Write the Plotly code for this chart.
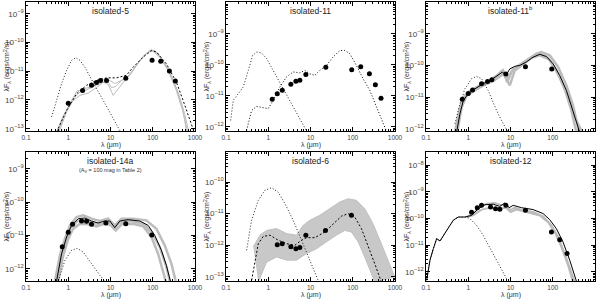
import plotly.graph_objects as go

FONT = "Liberation Sans"

titles = ["isolated-5", "isolated-11", "isolated-11<sup>b</sup>",
          "isolated-14a", "isolated-6", "isolated-12"]
subtitle_p4 = "(A<sub>V</sub> = 100 mag in Table 2)"
x_title = "λ (μm)"
y_title = "λF<sub>λ</sub> (ergs/cm<sup>2</sup>/s)"

# ---------------- panel 1 : isolated-5 (log10 lambda[um], log10 lambda F_lambda) ----
p1_data_x = [0.0, 0.339, 0.551, 0.669, 0.764, 0.906, 1.362, 1.984, 2.189, 2.394, 2.535]
p1_data_y = [-12.11, -11.67, -11.49, -11.39, -11.32, -11.32, -11.24, -10.62, -10.65, -10.99, -11.34]
p1_fit_x = [-0.276, -0.039, 0.197, 0.433, 0.669, 0.906, 1.142, 1.378, 1.535, 1.772, 1.969, 2.087, 2.323, 2.559, 2.717, 2.874, 2.992]
p1_fit_y = [-13.12, -12.36, -11.78, -11.49, -11.32, -11.23, -11.23, -11.14, -10.86, -10.51, -10.28, -10.33, -10.74, -11.38, -12.01, -12.71, -13.17]
p1_star_x = [-0.394, -0.276, -0.157, -0.039, 0.079, 0.181, 0.276, 0.394, 0.512, 0.669, 0.827, 0.984, 1.142, 1.26]
p1_star_y = [-12.59, -12.01, -11.43, -10.97, -10.62, -10.53, -10.62, -10.86, -11.20, -11.61, -12.01, -12.42, -12.83, -13.17]
p1_g1_x = [-0.26, -0.079, 0.079, 0.213, 0.394, 0.551, 0.748, 0.906, 1.024, 1.126, 1.26, 1.417, 1.575, 1.772, 1.929, 2.047, 2.205, 2.402, 2.598, 2.756, 2.858]
p1_g1_y = [-13.17, -12.48, -12.01, -11.67, -11.67, -11.57, -11.32, -11.28, -11.57, -11.53, -11.32, -11.18, -10.86, -10.48, -10.28, -10.28, -10.57, -11.03, -11.72, -12.48, -13.17]
p1_g2_x = [-0.291, -0.118, 0.079, 0.276, 0.472, 0.669, 0.827, 0.945, 1.063, 1.181, 1.339, 1.496, 1.693, 1.89, 2.008, 2.165, 2.362, 2.559, 2.717, 2.835]
p1_g2_y = [-13.17, -12.54, -12.07, -11.84, -11.76, -11.57, -11.38, -11.46, -11.84, -11.61, -11.32, -11.06, -10.62, -10.33, -10.30, -10.51, -10.97, -11.67, -12.42, -13.17]
p1_g3_x = [-0.236, -0.039, 0.157, 0.354, 0.591, 0.827, 0.984, 1.102, 1.26, 1.417, 1.614, 1.811, 1.969, 2.126, 2.323, 2.52, 2.701, 2.811]
p1_g3_y = [-13.17, -12.42, -11.90, -11.61, -11.53, -11.38, -11.32, -11.43, -11.32, -11.20, -10.80, -10.43, -10.25, -10.37, -10.80, -11.43, -12.25, -13.17]

# ---------------- panel 2 : isolated-11 ----
p2_data_x = [0.094, 0.213, 0.331, 0.535, 0.654, 0.748, 0.890, 1.362, 1.976, 2.189, 2.394, 2.535, 2.669]
p2_data_y = [-11.11, -10.93, -10.82, -10.63, -10.53, -10.50, -10.31, -10.08, -10.16, -10.06, -10.29, -10.64, -11.08]
p2_fit_x = [-0.512, -0.394, -0.276, -0.157, 0.0, 0.118, 0.276, 0.433, 0.591, 0.748, 0.866, 0.984, 1.102, 1.22, 1.378, 1.535, 1.693, 1.811, 1.929, 2.087, 2.244, 2.402, 2.559, 2.717, 2.795]
p2_fit_y = [-12.11, -11.47, -11.34, -11.38, -11.41, -11.14, -10.71, -10.39, -10.23, -10.26, -10.18, -10.29, -10.34, -10.18, -10.02, -9.75, -9.54, -9.54, -9.64, -10.02, -10.45, -10.82, -11.36, -11.89, -12.13]
p2_star_x = [-0.89, -0.827, -0.709, -0.591, -0.472, -0.37, -0.276, -0.157, -0.039, 0.118, 0.276, 0.433, 0.591, 0.748, 0.906]
p2_star_y = [-11.79, -11.14, -10.93, -10.71, -10.18, -9.70, -9.59, -9.62, -9.80, -10.18, -10.61, -10.98, -11.36, -11.73, -12.13]

# ---------------- panel 3 : isolated-11b ----
p3_data_x = [-0.142, 0.0, 0.102, 0.315, 0.457, 0.559, 0.890, 1.354, 1.976]
p3_data_y = [-11.07, -10.89, -10.78, -10.58, -10.51, -10.45, -10.27, -10.04, -10.11]
p3_fit_x = [-0.276, -0.197, -0.118, 0.0, 0.157, 0.354, 0.551, 0.709, 0.811, 0.89, 0.984, 1.102, 1.22, 1.378, 1.535, 1.693, 1.85, 2.008, 2.165, 2.323, 2.48, 2.598, 2.638]
p3_fit_y = [-12.11, -11.53, -11.11, -10.89, -10.74, -10.58, -10.45, -10.32, -10.21, -10.32, -10.11, -10.03, -10.0, -9.89, -9.74, -9.65, -9.72, -9.95, -10.32, -10.79, -11.42, -11.95, -12.11]
p3_star_x = [-0.315, -0.197, -0.079, 0.079, 0.197, 0.315, 0.472, 0.669, 0.827, 0.945]
p3_star_y = [-11.84, -11.21, -10.74, -10.42, -10.35, -10.42, -10.79, -11.42, -11.84, -12.11]
p3_g1_x = [-0.315, -0.213, -0.118, 0.039, 0.276, 0.512, 0.709, 0.827, 0.921, 1.024, 1.142, 1.378, 1.614, 1.732, 1.929, 2.126, 2.323, 2.48, 2.622]
p3_g1_y = [-12.11, -11.42, -11.0, -10.81, -10.63, -10.47, -10.29, -10.16, -10.53, -10.21, -10.05, -9.84, -9.63, -9.58, -9.68, -10.05, -10.63, -11.26, -12.11]
p3_g2_x = [-0.26, -0.157, -0.039, 0.157, 0.394, 0.63, 0.787, 0.89, 0.984, 1.102, 1.299, 1.535, 1.693, 1.89, 2.087, 2.283, 2.441, 2.559]
p3_g2_y = [-12.11, -11.32, -10.95, -10.77, -10.58, -10.39, -10.18, -10.39, -10.63, -10.16, -9.95, -9.72, -9.63, -9.76, -10.16, -10.74, -11.42, -12.11]
p3_g3_x = [-0.291, -0.181, -0.055, 0.118, 0.354, 0.591, 0.748, 0.843, 0.945, 1.063, 1.26, 1.496, 1.693, 1.929, 2.165, 2.402, 2.559, 2.701]
p3_g3_y = [-12.11, -11.37, -10.98, -10.81, -10.63, -10.49, -10.35, -10.26, -10.39, -10.11, -9.97, -9.76, -9.68, -9.82, -10.37, -11.11, -11.74, -12.11]

# ---------------- panel 4 : isolated-14a ----
p4_data_x = [-0.142, 0.0, 0.102, 0.315, 0.433, 0.551, 0.890, 1.362, 1.976]
p4_data_y = [-11.34, -10.91, -10.67, -10.57, -10.58, -10.67, -10.63, -10.65, -10.99]
p4_fit_x = [-0.276, -0.157, -0.039, 0.079, 0.236, 0.394, 0.551, 0.709, 0.866, 0.984, 1.102, 1.22, 1.417, 1.693, 1.89, 2.047, 2.205, 2.323, 2.417]
p4_fit_y = [-12.37, -11.55, -11.05, -10.7, -10.5, -10.48, -10.57, -10.63, -10.57, -10.57, -10.77, -10.57, -10.53, -10.57, -10.7, -11.0, -11.45, -11.9, -12.37]
p4_star_x = [-0.236, -0.079, 0.079, 0.213, 0.354, 0.551, 0.748, 0.866]
p4_star_y = [-12.37, -11.75, -11.45, -11.39, -11.5, -11.85, -12.2, -12.37]
p4_g1_x = [-0.315, -0.197, -0.079, 0.039, 0.197, 0.354, 0.551, 0.748, 0.945, 1.102, 1.26, 1.535, 1.85, 2.087, 2.283, 2.441, 2.543]
p4_g1_y = [-12.37, -11.6, -11.1, -10.7, -10.45, -10.4, -10.5, -10.57, -10.5, -10.7, -10.5, -10.5, -10.55, -10.8, -11.3, -11.85, -12.37]
p4_g2_x = [-0.236, -0.118, 0.0, 0.118, 0.276, 0.472, 0.669, 0.866, 1.024, 1.126, 1.26, 1.535, 1.772, 1.969, 2.126, 2.244, 2.307]
p4_g2_y = [-12.37, -11.6, -11.1, -10.8, -10.65, -10.67, -10.73, -10.65, -10.7, -10.85, -10.67, -10.65, -10.73, -11.05, -11.55, -12.05, -12.37]
p4_g3_x = [-0.276, -0.173, -0.055, 0.055, 0.213, 0.394, 0.591, 0.787, 0.945, 1.079, 1.22, 1.496, 1.772, 1.969, 2.165, 2.323, 2.402]
p4_g3_y = [-12.37, -11.65, -11.15, -10.77, -10.57, -10.55, -10.63, -10.67, -10.6, -10.8, -10.6, -10.57, -10.65, -10.9, -11.35, -11.95, -12.37]

# ---------------- panel 5 : isolated-6 ----
p5_data_x = [0.213, 0.331, 0.535, 0.654, 0.748, 0.890, 1.354, 1.969]
p5_data_y = [-11.98, -11.95, -12.05, -12.11, -12.07, -11.68, -11.53, -11.05]
p5_fit_x = [-0.394, -0.315, -0.236, -0.118, 0.039, 0.236, 0.433, 0.63, 0.787, 0.906, 1.102, 1.339, 1.535, 1.732, 1.89, 2.047, 2.205, 2.362, 2.52, 2.677]
p5_fit_y = [-13.11, -12.47, -11.95, -11.72, -11.68, -11.84, -11.95, -12.0, -11.84, -11.76, -11.76, -11.58, -11.32, -11.08, -11.0, -11.11, -11.47, -12.0, -12.58, -13.16]
p5_star_x = [-0.512, -0.394, -0.236, -0.079, 0.079, 0.236, 0.394, 0.591, 0.787, 0.984, 1.181]
p5_star_y = [-12.16, -11.21, -10.58, -10.26, -10.18, -10.32, -10.68, -11.21, -11.84, -12.47, -13.11]
p5_band_hi_x = [-0.354, -0.197, -0.039, 0.197, 0.433, 0.669, 0.827, 0.984, 1.22, 1.457, 1.693, 1.89, 2.087, 2.283, 2.48, 2.677, 2.874, 2.992]
p5_band_hi_y = [-12.05, -11.68, -11.53, -11.47, -11.63, -11.68, -11.37, -11.21, -11.05, -10.84, -10.63, -10.53, -10.58, -10.84, -11.32, -11.95, -12.63, -13.0]
p5_band_lo_x = [-0.236, -0.039, 0.197, 0.433, 0.669, 0.906, 1.142, 1.378, 1.614, 1.811, 1.969, 2.126, 2.283, 2.441, 2.52]
p5_band_lo_y = [-13.16, -12.53, -12.37, -12.47, -12.47, -12.26, -12.11, -11.89, -11.68, -11.53, -11.58, -11.89, -12.37, -12.89, -13.16]

# ---------------- panel 6 : isolated-12 ----
p6_data_x = [0.079, 0.213, 0.315, 0.528, 0.646, 0.748, 0.890, 1.354, 1.969, 2.165, 2.339]
p6_data_y = [-9.76, -9.59, -9.5, -9.56, -9.63, -9.65, -9.5, -9.69, -10.5, -10.79, -11.31]
p6_fit_x = [-0.984, -0.906, -0.827, -0.748, -0.669, -0.512, -0.354, -0.236, -0.079, 0.079, 0.236, 0.394, 0.591, 0.748, 0.866, 0.969, 1.063, 1.26, 1.535, 1.772, 1.929, 2.087, 2.244, 2.402, 2.559]
p6_fit_y = [-12.31, -11.56, -11.13, -10.75, -10.84, -10.44, -10.06, -9.94, -9.94, -9.88, -9.63, -9.48, -9.46, -9.54, -9.41, -9.59, -9.5, -9.59, -9.66, -9.81, -10.04, -10.38, -10.88, -11.56, -12.34]
p6_star_x = [-0.984, -0.906, -0.827, -0.748, -0.669, -0.512, -0.354, -0.236, -0.079, 0.039, 0.197, 0.354, 0.551, 0.748, 0.906]
p6_star_y = [-12.31, -11.56, -11.13, -10.75, -10.84, -10.44, -10.06, -9.94, -9.94, -10.0, -10.25, -10.63, -11.19, -11.75, -12.25]
p6_g1_x = [-0.039, 0.118, 0.276, 0.433, 0.63, 0.787, 0.89, 0.984, 1.102, 1.299, 1.535, 1.772, 1.969, 2.126, 2.283, 2.441, 2.52]
p6_g1_y = [-9.94, -9.81, -9.56, -9.44, -9.41, -9.5, -9.44, -9.69, -9.59, -9.69, -9.75, -9.91, -10.25, -10.69, -11.31, -12.06, -12.38]
p6_g2_x = [-0.039, 0.118, 0.315, 0.512, 0.709, 0.89, 1.0, 1.142, 1.378, 1.693, 1.89, 2.047, 2.205, 2.362, 2.48]
p6_g2_y = [-9.94, -9.88, -9.66, -9.59, -9.63, -9.59, -9.75, -9.66, -9.75, -9.88, -10.13, -10.5, -11.06, -11.75, -12.38]

y_ranges = [[-13.08, -8.59], [-12.13, -7.98], [-12.07, -8.0],
            [-12.37, -8.5], [-13.13, -9.05], [-12.34, -7.5]]

panels = [
    dict(data=(p1_data_x, p1_data_y), fit=(p1_fit_x, p1_fit_y), star=(p1_star_x, p1_star_y),
         grays=[(p1_g1_x, p1_g1_y), (p1_g2_x, p1_g2_y), (p1_g3_x, p1_g3_y)], fitdash="2px,2px", gw=1),
    dict(data=(p2_data_x, p2_data_y), fit=(p2_fit_x, p2_fit_y), star=(p2_star_x, p2_star_y),
         grays=[], fitdash="1px,2px", gw=1),
    dict(data=(p3_data_x, p3_data_y), fit=(p3_fit_x, p3_fit_y), star=(p3_star_x, p3_star_y),
         grays=[(p3_g1_x, p3_g1_y), (p3_g2_x, p3_g2_y), (p3_g3_x, p3_g3_y)], fitdash="solid", gw=2.5),
    dict(data=(p4_data_x, p4_data_y), fit=(p4_fit_x, p4_fit_y), star=(p4_star_x, p4_star_y),
         grays=[(p4_g1_x, p4_g1_y), (p4_g2_x, p4_g2_y), (p4_g3_x, p4_g3_y)], fitdash="solid", gw=2.5),
    dict(data=(p5_data_x, p5_data_y), fit=(p5_fit_x, p5_fit_y), star=(p5_star_x, p5_star_y),
         grays=[], fitdash="2px,2px", gw=1,
         band=(p5_band_hi_x, p5_band_hi_y, p5_band_lo_x, p5_band_lo_y)),
    dict(data=(p6_data_x, p6_data_y), fit=(p6_fit_x, p6_fit_y), star=(p6_star_x, p6_star_y),
         grays=[(p6_g1_x, p6_g1_y), (p6_g2_x, p6_g2_y)], fitdash="solid", gw=2),
]

W, H = 600, 299
col_px = [(26, 195), (226, 395), (426, 595)]
row_px = [(2, 131), (152, 281)]


def p10(v):
    return [10 ** a for a in v]


fig = go.Figure()
layout = dict(width=W, height=H, margin=dict(l=0, r=0, t=0, b=0, autoexpand=False),
              template="none",
              paper_bgcolor="white", plot_bgcolor="white", showlegend=False,
              font=dict(family=FONT, size=7, color="#333"))
annotations = []

for i, p in enumerate(panels):
    r, c = divmod(i, 3)
    n = "" if i == 0 else str(i + 1)
    xa, ya = "x" + n, "y" + n
    x0, x1 = col_px[c]
    yt, yb = row_px[r]
    ax_common = dict(type="log", showline=True, linecolor="black", linewidth=1,
                     mirror="allticks", ticks="inside", ticklen=4, tickcolor="black",
                     showgrid=False, zeroline=False, dtick=1, automargin=False,
                     tickfont=dict(size=6.5, color="#444", family=FONT),
                     minor=dict(ticks="inside", ticklen=2, tickcolor="black", showgrid=False))
    layout["xaxis" + n] = dict(ax_common, domain=[x0 / W, x1 / W], range=[-1, 3],
                               anchor=ya)
    layout["yaxis" + n] = dict(ax_common, domain=[1 - yb / H, 1 - yt / H], range=y_ranges[i],
                               anchor=xa, exponentformat="power")
    if "band" in p:
        hx, hy, lx, ly = p["band"]
        fig.add_trace(go.Scatter(x=p10(hx + lx[::-1]), y=p10(hy + ly[::-1]), fill="toself",
                                 fillcolor="#c8c8c8", line=dict(color="#c0c0c0", width=1),
                                 mode="lines", xaxis=xa, yaxis=ya, hoverinfo="skip"))
    for gx, gy in p["grays"]:
        fig.add_trace(go.Scatter(x=p10(gx), y=p10(gy), mode="lines",
                                 line=dict(color="#bcbcbc", width=p["gw"]),
                                 xaxis=xa, yaxis=ya))
    fig.add_trace(go.Scatter(x=p10(p["star"][0]), y=p10(p["star"][1]), mode="lines",
                             line=dict(color="#222", width=1, dash="1px,2px"),
                             xaxis=xa, yaxis=ya))
    fig.add_trace(go.Scatter(x=p10(p["fit"][0]), y=p10(p["fit"][1]), mode="lines",
                             line=dict(color="black", width=1, dash=p["fitdash"]),
                             xaxis=xa, yaxis=ya))
    fig.add_trace(go.Scatter(x=p10(p["data"][0]), y=p10(p["data"][1]), mode="markers",
                             marker=dict(color="black", size=5),
                             xaxis=xa, yaxis=ya))
    cx = (x0 + x1) / 2 / W
    annotations.append(dict(text=titles[i], x=cx, y=1 - (yt + 9) / H, xref="paper", yref="paper",
                            showarrow=False, font=dict(size=8.5, color="#222", family=FONT),
                            xanchor="center", yanchor="middle"))
    annotations.append(dict(text=x_title, x=cx, y=1 - (yb + 14) / H, xref="paper", yref="paper",
                            showarrow=False, font=dict(size=7, color="#333", family=FONT),
                            xanchor="center", yanchor="middle"))
    annotations.append(dict(text=y_title, x=(x0 - 19) / W, y=1 - (yt + yb) / 2 / H,
                            xref="paper", yref="paper", textangle=-90,
                            showarrow=False, font=dict(size=7, color="#333", family=FONT),
                            xanchor="center", yanchor="middle"))

annotations.append(dict(text=subtitle_p4, x=(col_px[0][0] + col_px[0][1]) / 2 / W,
                        y=1 - (row_px[1][0] + 19) / H, xref="paper", yref="paper",
                        showarrow=False, font=dict(size=5.5, color="#333", family=FONT),
                        xanchor="center", yanchor="middle"))
layout["annotations"] = annotations
fig.update_layout(**layout)
fig.write_html("out.html", config={"displayModeBar": False, "staticPlot": True},
               post_script="document.body.style.margin='0px';document.body.style.overflow='hidden';")
